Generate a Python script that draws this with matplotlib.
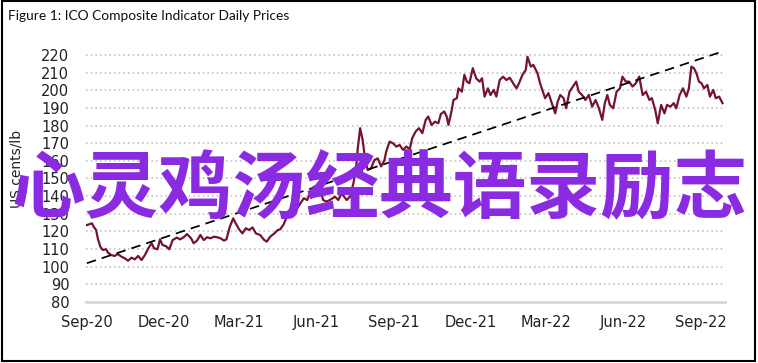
import pandas as pd
import matplotlib.pyplot as plt
import matplotlib.dates as mdates
from matplotlib.patches import Rectangle

# dias desde 2020-09-01 e preços (US cents/lb)
inicio = pd.Timestamp('2020-09-01')
dias = [0, 6, 8, 11, 13, 16, 19, 23, 25, 29, 33, 37, 41, 45, 49, 53, 57, 61, 65, 69,
        73, 77, 80, 84, 87, 90, 94, 98, 102, 107, 111, 116, 119, 124, 127, 131, 135, 139, 143, 147,
        151, 155, 159, 163, 166, 170, 174, 177, 181, 185, 189, 193, 197, 201, 206, 211, 214, 218, 223, 227,
        230, 234, 238, 244, 250, 254, 258, 262, 266, 270, 274, 277, 281, 285, 289, 295, 299, 303, 309, 313,
        317, 320, 322, 325, 328, 331, 334, 338, 342, 346, 350, 354, 356, 360, 364, 368, 372, 376, 380, 384,
        387, 391, 395, 399, 403, 406, 410, 414, 418, 421, 425, 428, 430, 434, 436, 440, 442, 446, 449, 452,
        455, 459, 463, 467, 470, 473, 477, 480, 484, 487, 491, 495, 499, 503, 507, 511, 514, 518, 522, 524,
        528, 531, 534, 536, 539, 541, 545, 549, 553, 557, 560, 563, 567, 570, 574, 578, 582, 585, 589, 593,
        597, 601, 605, 609, 613, 616, 619, 622, 626, 630, 634, 637, 641, 645, 649, 653, 657, 661, 665, 669,
        672, 676, 679, 683, 687, 690, 694, 698, 701, 705, 709, 713, 716, 719, 722, 725, 728, 731, 734, 738,
        741, 745, 748, 752, 756]
precos = [123.6, 124.6, 122.7, 120.8, 116.0, 111.3, 109.5, 109.9, 108.0, 106.6, 106.1, 107.2, 105.7, 104.8, 103.4, 105.1, 104.2, 106.1, 103.8, 106.6,
          110.4, 113.3, 110.4, 109.9, 115.5, 112.3, 111.7, 109.9, 115.1, 116.5, 115.5, 117.0, 118.5, 116.1, 113.3, 114.8, 118.0, 115.1, 116.7, 116.1,
          117.0, 116.7, 116.1, 114.8, 115.5, 122.7, 127.4, 124.6, 121.2, 118.9, 121.8, 120.8, 122.3, 118.9, 118.0, 115.1, 114.2, 117.0, 118.9, 120.8,
          121.2, 124.0, 128.5, 133.0, 133.1, 136.0, 138.8, 137.8, 142.5, 145.4, 141.6, 144.5, 137.8, 136.9, 137.8, 139.7, 137.8, 141.6, 137.8, 139.7,
          147.3, 154.8, 166.2, 178.5, 171.8, 160.5, 154.8, 155.8, 160.5, 161.4, 156.8, 160.5, 165.2, 170.9, 170.0, 168.1, 169.0, 166.2, 168.1, 166.6,
          172.9, 176.6, 178.5, 175.7, 183.2, 185.1, 180.3, 182.2, 181.3, 186.5, 188.0, 185.0, 180.3, 188.8, 194.5, 195.5, 201.1, 199.2, 208.7, 204.9,
          204.0, 212.5, 206.8, 204.9, 206.8, 196.4, 201.1, 197.3, 200.2, 196.4, 205.8, 207.7, 205.8, 207.1, 204.0, 201.1, 204.0, 208.7, 211.5, 219.0,
          213.4, 214.4, 211.5, 209.6, 204.0, 201.1, 195.5, 198.4, 192.7, 186.9, 193.6, 197.3, 195.5, 189.8, 199.2, 202.1, 204.9, 199.2, 197.3, 194.5,
          197.3, 190.7, 194.5, 189.8, 183.2, 192.7, 197.3, 191.7, 189.8, 199.2, 201.1, 207.7, 204.9, 204.9, 202.1, 204.0, 207.7, 197.3, 199.2, 194.5,
          195.5, 188.8, 181.3, 191.7, 186.9, 191.7, 190.7, 192.7, 189.8, 197.3, 201.1, 196.4, 201.1, 213.4, 212.5, 209.6, 204.9, 204.0, 201.1, 203.0,
          196.4, 200.2, 195.5, 196.4, 192.7]

# linha de tendência (tracejada)
tendencia_dias = [0, 756]
tendencia_valores = [102.0, 222.0]

yticks = list(range(80, 221, 10))
xticks = ['2020-09-01', '2020-12-01', '2021-03-01', '2021-06-01', '2021-09-01',
          '2021-12-01', '2022-03-01', '2022-06-01', '2022-09-01']

titulo = 'Figure 1: ICO Composite Indicator Daily Prices'
marca = '心灵鸡汤经典语录励志'

datas = inicio + pd.to_timedelta(dias, unit='D')
datas_tend = inicio + pd.to_timedelta(tendencia_dias, unit='D')

fonte = ['Liberation Sans Narrow', 'DejaVu Sans']

fig = plt.figure(figsize=(7.58, 3.63), dpi=100)
ax = fig.add_axes([0.1135, 0.168, 0.843, 0.700])

ax.plot(datas, precos, color='#74142f', linewidth=1.6, zorder=3)
ax.plot(datas_tend, tendencia_valores, color='black', linestyle=(0, (5.5, 3.5)), linewidth=1.25, zorder=4)

ax.set_xlim(inicio - pd.Timedelta(days=1), inicio + pd.Timedelta(days=759))
ax.set_ylim(80, 224)
ax.set_yticks(yticks)
ax.set_xticks(pd.to_datetime(xticks))
ax.xaxis.set_major_formatter(mdates.DateFormatter('%b-%y'))

for s in ['top', 'right', 'left']:
    ax.spines[s].set_visible(False)
ax.spines['bottom'].set_color('#d9d9d9')
ax.spines['bottom'].set_linewidth(2)
ax.spines['bottom'].set_zorder(2)

ax.yaxis.grid(True, color='#c4c4c4', linestyle=(0, (1, 1.8)), linewidth=1.2, zorder=1)
ax.set_axisbelow(True)
ax.tick_params(axis='both', length=0, labelsize=10.5, colors='#222222')
ax.tick_params(axis='y', pad=12)
ax.tick_params(axis='x', pad=9)
for lbl in ax.get_xticklabels() + ax.get_yticklabels():
    lbl.set_family(fonte)

fig.text(0.022, 0.535, 'US cents/lb', rotation=90, ha='center', va='center',
         fontsize=10, family=fonte, color='#222222')

fig.text(0.011, 0.955, titulo, ha='left', va='center', fontsize=9.9,
         family=['Lato', 'DejaVu Sans'], color='#111111')

# moldura
fig.patches.append(Rectangle((0.003, 0.006), 0.993, 0.99, transform=fig.transFigure,
                             fill=False, edgecolor='black', linewidth=1.5))

# marca d'água
fig.text(0.5, 0.474, marca, ha='center', va='center', fontsize=53, fontweight='bold',
         family=['Noto Sans CJK SC', 'DejaVu Sans'], color='#8a2be2', zorder=10)

plt.savefig('out.png', dpi=100)
